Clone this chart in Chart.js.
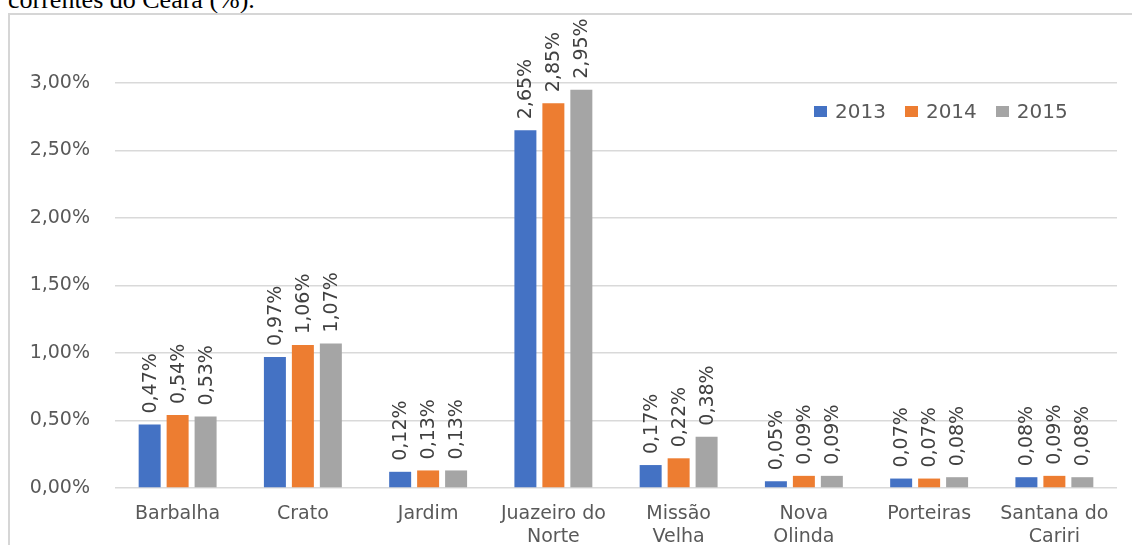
<!DOCTYPE html>
<html>
<head>
<meta charset="utf-8">
<script src="https://cdn.jsdelivr.net/npm/chart.js@4.4.1/dist/chart.umd.min.js"></script>
<style>
  html, body { margin: 0; padding: 0; background: #fff; }
  #wrap { position: relative; width: 1132px; height: 545px; overflow: hidden; }
  #caption {
    position: absolute; left: 8px; top: -13px;
    font: 26px/26px "Liberation Serif", "Times New Roman", serif; color: #000;
    white-space: nowrap;
  }
  #frame {
    position: absolute; left: 8px; top: 13px; right: -4px; bottom: -4px;
    border-top: 2px solid #d6d6d6; border-left: 2px solid #d6d6d6;
  }
  #chart { position: absolute; left: 0; top: 0; }
  #legend {
    position: absolute; left: 814px; top: 99px; display: flex;
    font: 20px "DejaVu Sans", sans-serif; color: #595959;
  }
  #legend span.item { display: flex; align-items: center; margin-right: 19px; }
  #legend span.box { width: 13px; height: 11px; margin-right: 8px; display: inline-block; }
</style>
</head>
<body>
<div id="wrap">
  <div id="caption">correntes do Ceará (%).</div>
  <div id="frame"></div>
  <canvas id="chart" width="1132" height="545"></canvas>
  <div id="legend"></div>
</div>
<script>
// Municipalities and yearly shares (%)
const municipios = ['Barbalha', 'Crato', 'Jardim', ['Juazeiro do', 'Norte'], ['Missão', 'Velha'], ['Nova', 'Olinda'], 'Porteiras', ['Santana do', 'Cariri']];
const anos = ['2013', '2014', '2015'];
const valores2013 = [0.47, 0.97, 0.12, 2.65, 0.17, 0.05, 0.07, 0.08];
const valores2014 = [0.54, 1.06, 0.13, 2.85, 0.22, 0.09, 0.07, 0.09];
const valores2015 = [0.53, 1.07, 0.13, 2.95, 0.38, 0.09, 0.08, 0.08];
const cores = ['#4472C4', '#ED7D31', '#A5A5A5'];
const yTicks = [0, 0.5, 1.0, 1.5, 2.0, 2.5, 3.0];

const FONT = '"DejaVu Sans", sans-serif';
const fmt = v => v.toFixed(2).replace('.', ',') + '%';

// Vertical value labels above each bar
const barLabels = {
    id: 'barLabels',
    afterDatasetsDraw(chart) {
        const ctx = chart.ctx;
        ctx.save();
        ctx.font = '19px ' + FONT;
        ctx.fillStyle = '#404040';
        ctx.textAlign = 'left';
        ctx.textBaseline = 'middle';
        chart.data.datasets.forEach((ds, i) => {
            chart.getDatasetMeta(i).data.forEach((bar, j) => {
                ctx.save();
                ctx.translate(bar.x + 1, bar.y - 11);
                ctx.rotate(-Math.PI / 2);
                ctx.fillText(fmt(ds.data[j]), 0, 0);
                ctx.restore();
            });
        });
        ctx.restore();
    }
};

const seriesData = [valores2013, valores2014, valores2015];

new Chart(document.getElementById('chart'), {
    type: 'bar',
    data: {
        labels: municipios,
        datasets: anos.map((a, i) => ({
            label: a,
            data: seriesData[i],
            backgroundColor: cores[i],
            barPercentage: 0.786,
            categoryPercentage: 0.67
        }))
    },
    options: {
        responsive: false,
        animation: false,
        layout: { padding: { top: 83, right: 15, left: 0, bottom: 0 } },
        plugins: {
            legend: { display: false },
            tooltip: { enabled: false }
        },
        scales: {
            x: {
                grid: { display: false, drawTicks: false },
                border: { display: false },
                ticks: {
                    color: '#595959',
                    font: { family: FONT, size: 19, lineHeight: 1.2 },
                    padding: 15,
                    maxRotation: 0,
                    autoSkip: false
                },
                afterFit(scale) { scale.height = 57; }
            },
            y: {
                min: 0,
                max: 3.0,
                afterBuildTicks(scale) { scale.ticks = yTicks.map(v => ({ value: v })); },
                grid: { color: '#d9d9d9', lineWidth: 1.5, drawTicks: false },
                border: { display: false },
                ticks: {
                    color: '#595959',
                    font: { family: FONT, size: 19 },
                    padding: 25,
                    callback: v => fmt(v)
                },
                afterFit(scale) { scale.width = 115; }
            }
        }
    },
    plugins: [barLabels]
});

// Legend
const legend = document.getElementById('legend');
anos.forEach((a, i) => {
    const item = document.createElement('span');
    item.className = 'item';
    item.innerHTML = `<span class="box" style="background:${cores[i]}"></span>${a}`;
    legend.appendChild(item);
});
</script>
</body>
</html>
